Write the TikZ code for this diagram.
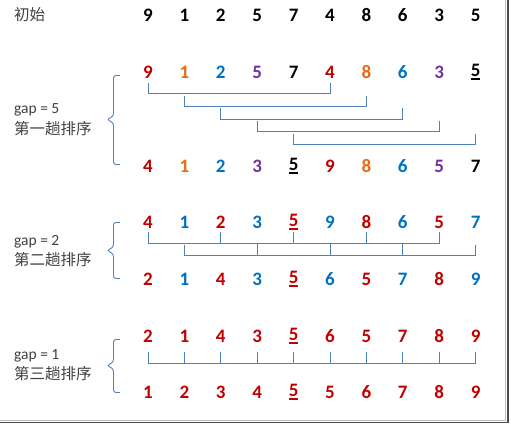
\documentclass[tikz,border=0pt]{standalone}
\usepackage{fontspec}
\setmainfont{Carlito}
\newfontfamily\cjk{Noto Sans CJK SC}
\definecolor{nred}{RGB}{192,0,0}
\definecolor{norange}{RGB}{235,105,20}
\definecolor{nblue}{RGB}{0,112,192}
\definecolor{npurple}{RGB}{112,48,160}
\definecolor{linkblue}{RGB}{79,129,189}
\definecolor{labgray}{RGB}{64,64,64}
\newcommand{\ulnum}[1]{\setbox0\hbox{#1}\rlap{\rule[-3.6pt]{\wd0}{1.6pt}}#1}
\tikzset{
  num/.style={font=\fontsize{19}{19}\selectfont\bfseries, inner sep=0pt},
  lab/.style={font=\fontsize{15.5}{16}\selectfont, text=labgray, anchor=west, inner sep=0pt},
  link/.style={draw=linkblue, line width=0.9pt},
  curly/.style={draw=linkblue, line width=0.9pt, rounded corners=2.5pt}
}
\begin{document}
\begin{tikzpicture}[x=1pt,y=-1pt]
                \useasboundingbox (0,0) rectangle (511,425);
                \draw[black!25, line width=1pt] (505.5,0) -- (505.5,420) -- (0,420);
                \draw[black!70, line width=1.6pt] (507.7,0) -- (507.7,422.5) -- (0,422.5);

                % labels
                \node[lab] (init) at (14,15) {\cjk 初始};
                \node[lab] (gapa) at (14,110) {gap = 5};
                \node[lab] (pasa) at (14,129) {\cjk 第一趟排序};
                \node[lab] (gapb) at (14,242) {gap = 2};
                \node[lab] (pasb) at (14,260) {\cjk 第二趟排序};
                \node[lab] (gapc) at (14,356) {gap = 1};
                \node[lab] (pasc) at (14,374) {\cjk 第三趟排序};

                % rows of numbers
                \foreach \d/\c [count=\i] in {9/black,1/black,2/black,5/black,7/black,4/black,8/black,6/black,3/black,5/black}
                    \node[num, text=\c] (ini\i) at ({148+(\i-1)*36.4},15) {\d};
                \foreach \d/\c [count=\i] in {9/nred,1/norange,2/nblue,5/npurple,7/black,4/nred,8/norange,6/nblue,3/npurple,{\ulnum{5}}/black}
                    \node[num, text=\c] (p1t\i) at ({148+(\i-1)*36.4},72) {\d};
                \foreach \d/\c [count=\i] in {4/nred,1/norange,2/nblue,3/npurple,{\ulnum{5}}/black,9/nred,8/norange,6/nblue,5/npurple,7/black}
                    \node[num, text=\c] (p1b\i) at ({148+(\i-1)*36.4},166) {\d};
                \foreach \d/\c [count=\i] in {4/nred,1/nblue,2/nred,3/nblue,{\ulnum{5}}/nred,9/nblue,8/nred,6/nblue,5/nred,7/nblue}
                    \node[num, text=\c] (p2t\i) at ({148+(\i-1)*36.4},222) {\d};
                \foreach \d/\c [count=\i] in {2/nred,1/nblue,4/nred,3/nblue,{\ulnum{5}}/nred,6/nblue,5/nred,7/nblue,8/nred,9/nblue}
                    \node[num, text=\c] (p2b\i) at ({148+(\i-1)*36.4},279) {\d};
                \foreach \d [count=\i] in {2,1,4,3,{\ulnum{5}},6,5,7,8,9}
                    \node[num, text=nred] (p3t\i) at ({148+(\i-1)*36.4},336) {\d};
                \foreach \d [count=\i] in {1,2,3,4,{\ulnum{5}},5,6,7,8,9}
                    \node[num, text=nred] (p3b\i) at ({148+(\i-1)*36.4},392) {\d};

                % gap = 5
                \foreach \i in {1,...,5} {
                    \pgfmathtruncatemacro{\j}{\i+5}
                    \pgfmathsetmacro{\ly}{93.5+(\i-1)*12.75}
                    \pgfmathsetmacro{\ty}{\ly-10.5}
                    \draw[link] (p1t\i |- 0,\ty) -- (p1t\i |- 0,\ly) -- (p1t\j |- 0,\ly) -- (p1t\j |- 0,\ty);
                }
                \draw[curly] (120,75.5) -- (113.5,75.5) -- (113.5,116) -- (107,119.5) -- (113.5,123) -- (113.5,164.5) -- (120,164.5);

                % gap = 2
                \draw[link] (p2t1 |- 0,232) -- (p2t1 |- 0,243.5) -- (p2t9 |- 0,243.5) -- (p2t9 |- 0,232);
                \foreach \i in {3,5,7}
                    \draw[link] (p2t\i |- 0,232) -- (p2t\i |- 0,243.5);
                \draw[link] (p2t2 |- 0,245) -- (p2t2 |- 0,255.5) -- (p2t10 |- 0,255.5) -- (p2t10 |- 0,245);
                \foreach \i in {4,6,8}
                    \draw[link] (p2t\i |- 0,243.5) -- (p2t\i |- 0,255.5);
                \draw[curly] (120,222.5) -- (113.5,222.5) -- (113.5,247) -- (107,250.5) -- (113.5,254) -- (113.5,278.5) -- (120,278.5);

                % gap = 1
                \draw[link] (p3t1 |- 0,352) -- (p3t1 |- 0,363.5) -- (p3t10 |- 0,363.5) -- (p3t10 |- 0,352);
                \foreach \i in {2,...,9}
                    \draw[link] (p3t\i |- 0,352) -- (p3t\i |- 0,363.5);
                \draw[curly] (120,339.5) -- (113.5,339.5) -- (113.5,362) -- (107,365.5) -- (113.5,369) -- (113.5,392.5) -- (120,392.5);
\end{tikzpicture}
\end{document}
